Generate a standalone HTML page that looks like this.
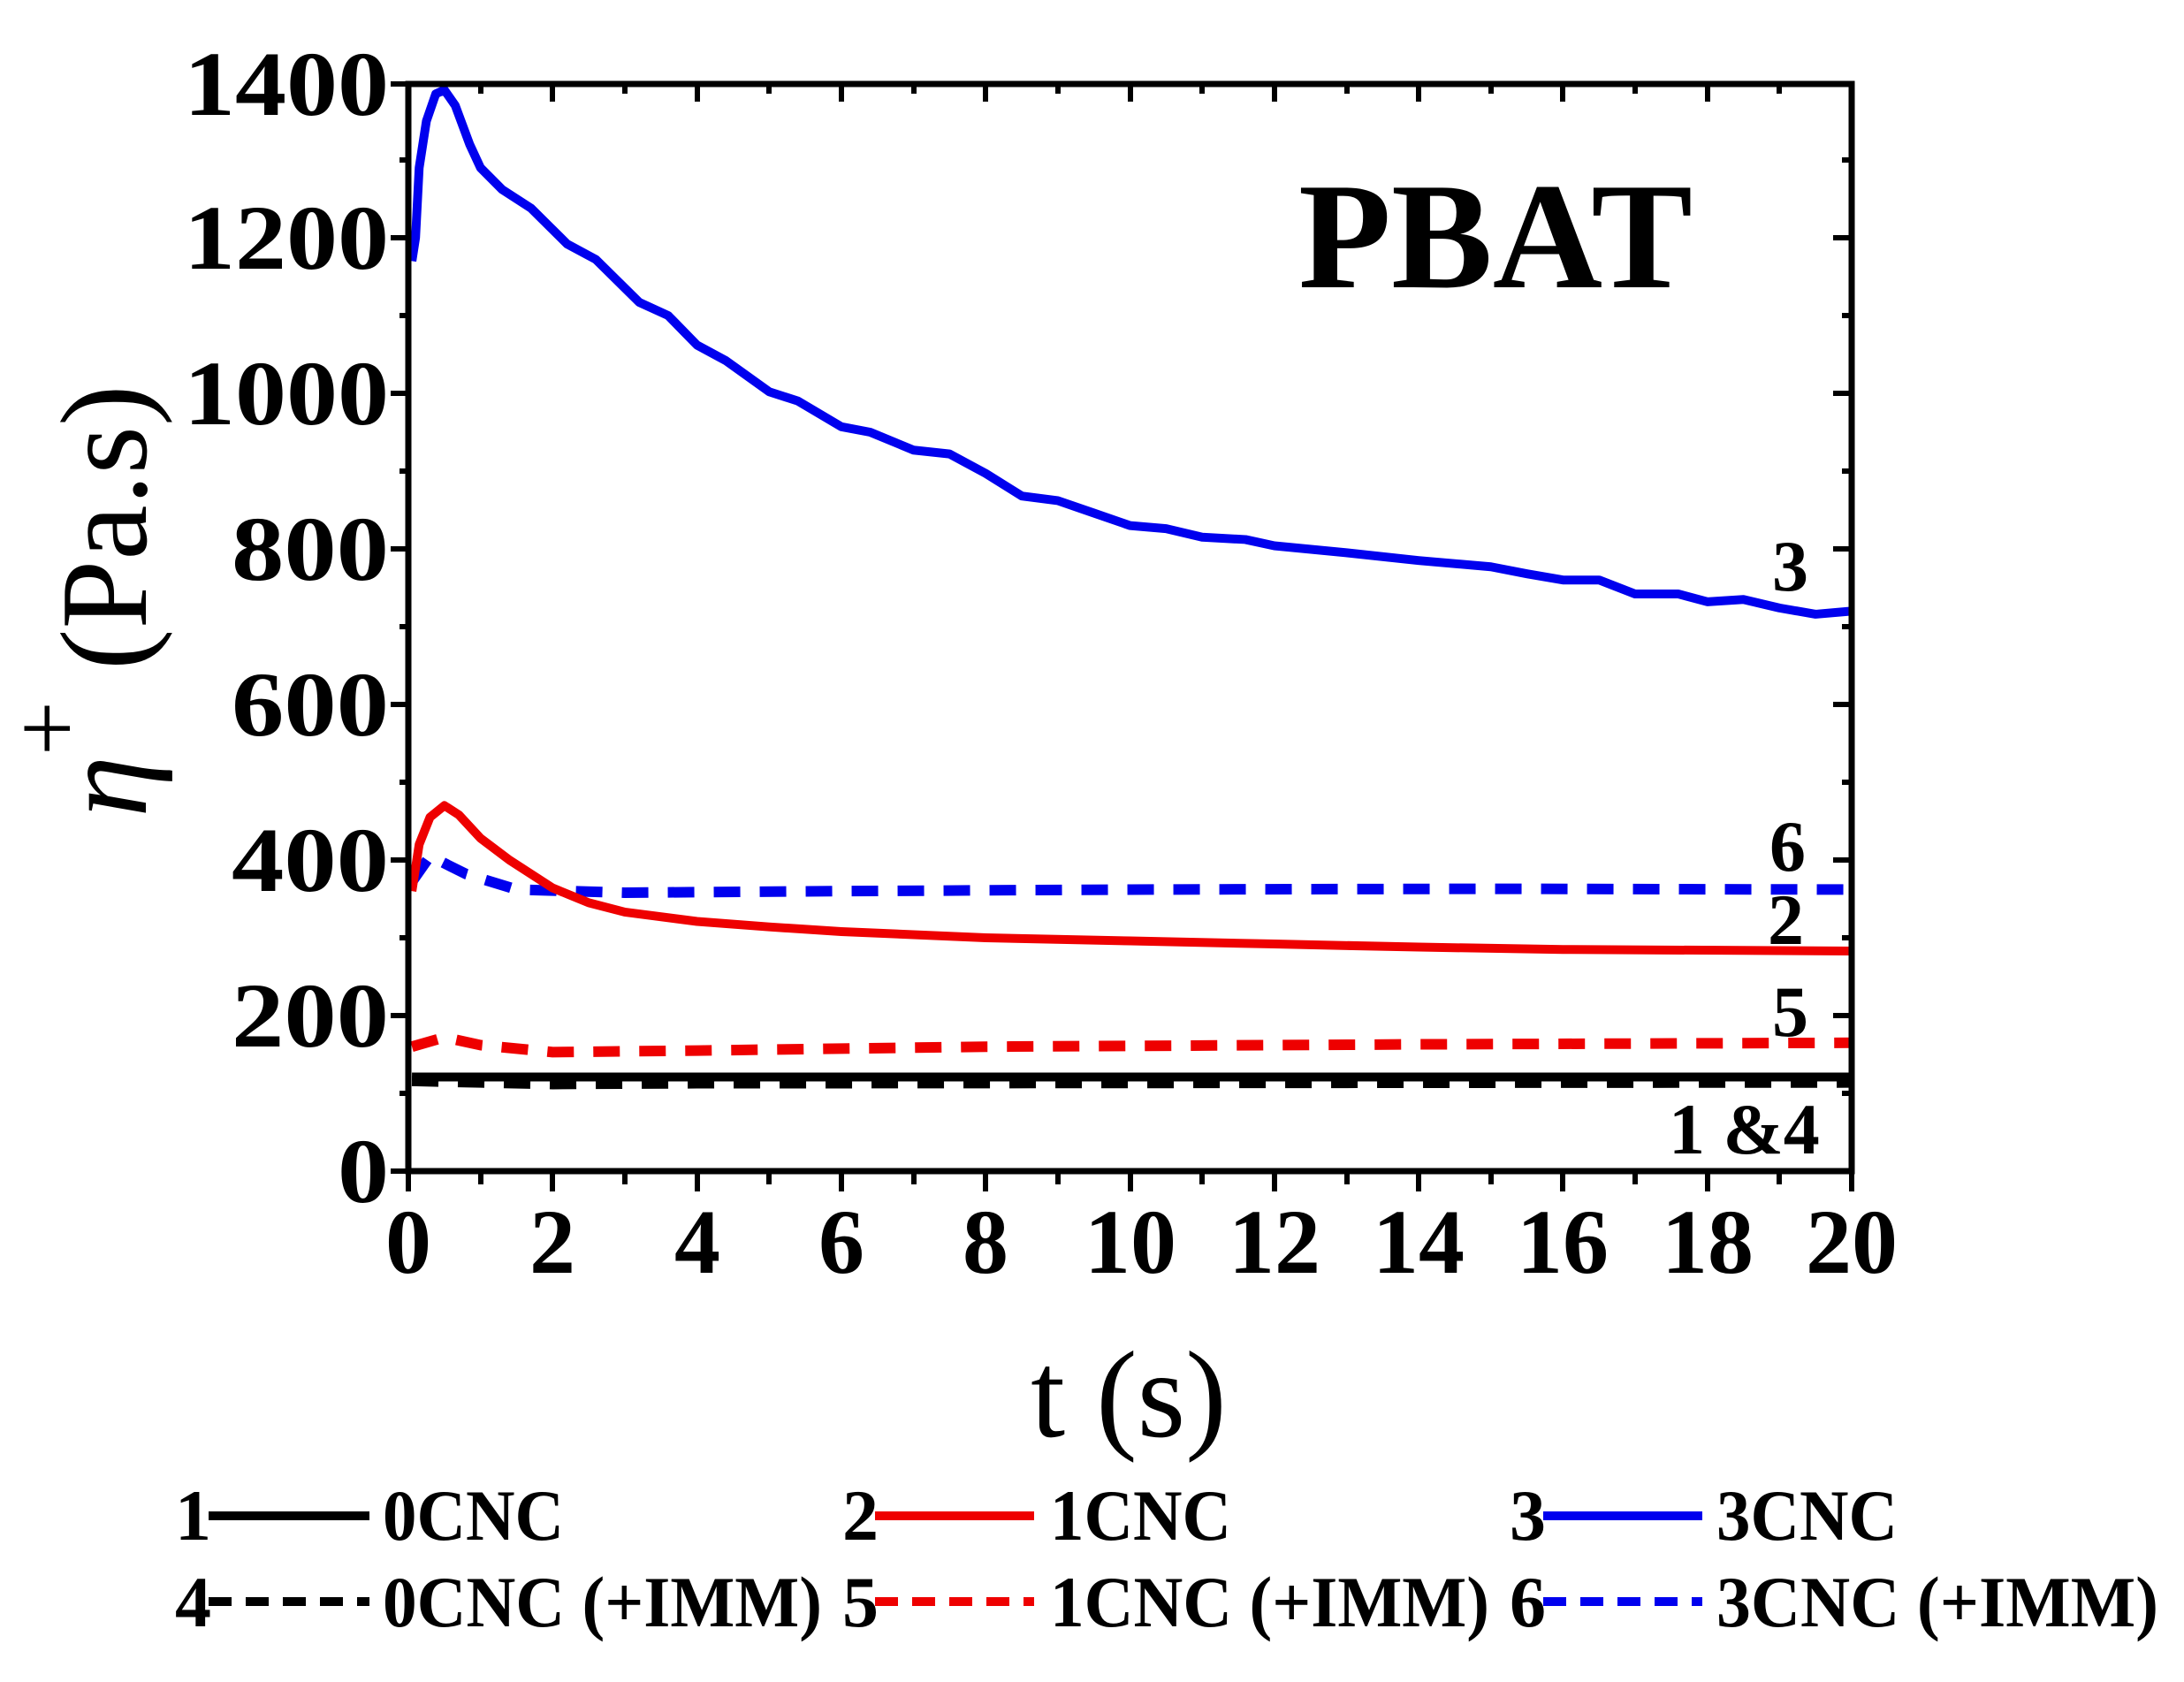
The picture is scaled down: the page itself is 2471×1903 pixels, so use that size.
<!DOCTYPE html>
<html><head><meta charset="utf-8"><style>
html,body{margin:0;padding:0;background:#fff;}
svg{display:block;}
text{font-family:"Liberation Serif",serif;font-weight:bold;fill:#000;}
</style></head><body>
<svg width="2471" height="1903" viewBox="0 0 2471 1903" xmlns="http://www.w3.org/2000/svg">
<rect width="2471" height="1903" fill="#fff"/>
<g transform="translate(462,1325) scale(81.65,-0.88)" fill="none" stroke-linejoin="round" stroke-linecap="butt">
<path vector-effect="non-scaling-stroke" stroke="#000" stroke-width="10" d="M0.05,121 L20,121"/>
<path vector-effect="non-scaling-stroke" stroke="#000" stroke-width="12" stroke-dasharray="30 22" d="M0.05,116 L1,114 L2,112 L4,113 L20,114"/>
<path vector-effect="non-scaling-stroke" stroke="#ee0000" stroke-width="12" stroke-dasharray="30 22" d="M0.05,160 L0.5,172 L1,162 L2,153 L4,155 L8,160 L14,163 L20,165"/>
<path vector-effect="non-scaling-stroke" stroke="#0000ee" stroke-width="12" stroke-dasharray="30 22" d="M0.05,372 L0.3,405 L0.8,382 L1.5,362 L3,358 L6,360 L10,362 L15,363 L20,362"/>
<path vector-effect="non-scaling-stroke" stroke="#ee0000" stroke-width="10" d="M0.05,360 L0.15,420 L0.3,455 L0.5,470 L0.7,458 L1,428 L1.4,400 L2,364 L2.5,345 L3,333 L4,321 L5,314 L6,308 L8,300 L10,296 L12,292 L14,288 L16,285 L20,283"/>
<path vector-effect="non-scaling-stroke" stroke="#0000ee" stroke-width="10" d="M0.05,1170 L0.1,1200 L0.15,1290 L0.25,1350 L0.38,1385 L0.5,1390 L0.65,1370 L0.85,1320 L1,1290 L1.3,1262 L1.7,1238 L2.2,1192 L2.6,1172 L3.2,1117 L3.6,1100 L4,1062 L4.4,1042 L5,1002 L5.4,990 L6,957 L6.4,950 L7,927 L7.5,922 L8,897 L8.5,868 L9,862 L9.5,846 L10,830 L10.5,826 L11,815 L11.6,812 L12,804 L13,795 L14,785 L15,777 L15.5,768 L16,760 L16.5,760 L17,742 L17.6,742 L18,732 L18.5,735 L19,724 L19.5,716 L20,720"/>
</g>
<rect x="462" y="95" width="1633" height="1230" fill="none" stroke="#000" stroke-width="7"/>
<g stroke="#000" stroke-width="6">
<path d="M442,1325H462 M442,1149H462 M442,973H462 M442,797H462 M442,621H462 M442,445H462 M442,269H462 M442,95H462"/>
<path d="M2074,1149H2095 M2074,973H2095 M2074,797H2095 M2074,621H2095 M2074,445H2095 M2074,269H2095"/>
<path d="M452,1237H462 M452,1061H462 M452,885H462 M452,709H462 M452,533H462 M452,357H462 M452,181H462"/>
<path d="M2084,1237H2095 M2084,1061H2095 M2084,885H2095 M2084,709H2095 M2084,533H2095 M2084,357H2095 M2084,181H2095"/>
<path d="M462,1325V1348 M625,1325V1348 M789,1325V1348 M952,1325V1348 M1115,1325V1348 M1279,1325V1348 M1442,1325V1348 M1605,1325V1348 M1768,1325V1348 M1932,1325V1348 M2095,1325V1348"/>
<path d="M544,1325V1340 M707,1325V1340 M870,1325V1340 M1034,1325V1340 M1197,1325V1340 M1360,1325V1340 M1524,1325V1340 M1687,1325V1340 M1850,1325V1340 M2013,1325V1340"/>
<path d="M625,95V115 M789,95V115 M952,95V115 M1115,95V115 M1279,95V115 M1442,95V115 M1605,95V115 M1768,95V115 M1932,95V115"/>
<path d="M544,95V106 M707,95V106 M870,95V106 M1034,95V106 M1197,95V106 M1360,95V106 M1524,95V106 M1687,95V106 M1850,95V106 M2013,95V106"/>
</g>
<g font-size="104" text-anchor="end">
<text x="440" y="1360" textLength="58" lengthAdjust="spacingAndGlyphs">0</text>
<text x="440" y="1184" textLength="178" lengthAdjust="spacingAndGlyphs">200</text>
<text x="440" y="1008" textLength="178" lengthAdjust="spacingAndGlyphs">400</text>
<text x="440" y="832" textLength="178" lengthAdjust="spacingAndGlyphs">600</text>
<text x="440" y="656" textLength="178" lengthAdjust="spacingAndGlyphs">800</text>
<text x="440" y="480" textLength="232" lengthAdjust="spacingAndGlyphs">1000</text>
<text x="440" y="304" textLength="232" lengthAdjust="spacingAndGlyphs">1200</text>
<text x="440" y="130" textLength="232" lengthAdjust="spacingAndGlyphs">1400</text>
</g>
<g font-size="104" text-anchor="middle">
<text x="462" y="1440">0</text><text x="625" y="1440">2</text><text x="789" y="1440">4</text><text x="952" y="1440">6</text><text x="1115" y="1440">8</text>
<text x="1279" y="1440">10</text><text x="1442" y="1440">12</text><text x="1605" y="1440">14</text><text x="1768" y="1440">16</text><text x="1932" y="1440">18</text><text x="2095" y="1440">20</text>
</g>
<text x="1692" y="325" font-size="172" text-anchor="middle">PBAT</text>
<g font-size="82">
<text x="2005" y="668">3</text>
<text x="2002" y="985">6</text>
<text x="2000" y="1068">2</text>
<text x="2005" y="1172">5</text>
<text x="1888" y="1305">1 &amp;4</text>
</g>
<text x="1277" y="1625" font-size="140" text-anchor="middle" style="font-weight:normal;font-family:'Liberation Serif',serif">t (s)</text>
<g transform="translate(165,680) rotate(-90)">
<text x="0" y="0" font-size="140" text-anchor="middle" style="font-weight:normal;font-family:'Liberation Serif',serif"><tspan font-style="italic">η</tspan><tspan dy="-75" font-size="110">+</tspan><tspan dy="75"> (Pa.s)</tspan></text>
</g>
<g font-size="82">
<text x="198" y="1742">1</text>
<line x1="236" y1="1715" x2="418" y2="1715" stroke="#000" stroke-width="10"/>
<text x="433" y="1742" textLength="205" lengthAdjust="spacingAndGlyphs">0CNC</text>
<text x="953" y="1742">2</text>
<line x1="990" y1="1715" x2="1170" y2="1715" stroke="#ee0000" stroke-width="10"/>
<text x="1188" y="1742" textLength="205" lengthAdjust="spacingAndGlyphs">1CNC</text>
<text x="1708" y="1742">3</text>
<line x1="1746" y1="1715" x2="1926" y2="1715" stroke="#0000ee" stroke-width="10"/>
<text x="1942" y="1742" textLength="205" lengthAdjust="spacingAndGlyphs">3CNC</text>
<text x="198" y="1840">4</text>
<line x1="236" y1="1812" x2="418" y2="1812" stroke="#000" stroke-width="10" stroke-dasharray="26 16"/>
<text x="433" y="1840" textLength="497" lengthAdjust="spacingAndGlyphs">0CNC (+IMM)</text>
<text x="953" y="1840">5</text>
<line x1="990" y1="1812" x2="1170" y2="1812" stroke="#ee0000" stroke-width="10" stroke-dasharray="26 16"/>
<text x="1188" y="1840" textLength="497" lengthAdjust="spacingAndGlyphs">1CNC (+IMM)</text>
<text x="1708" y="1840">6</text>
<line x1="1746" y1="1812" x2="1926" y2="1812" stroke="#0000ee" stroke-width="10" stroke-dasharray="26 16"/>
<text x="1942" y="1840" textLength="500" lengthAdjust="spacingAndGlyphs">3CNC (+IMM)</text>
</g>
</svg>
</body></html>
